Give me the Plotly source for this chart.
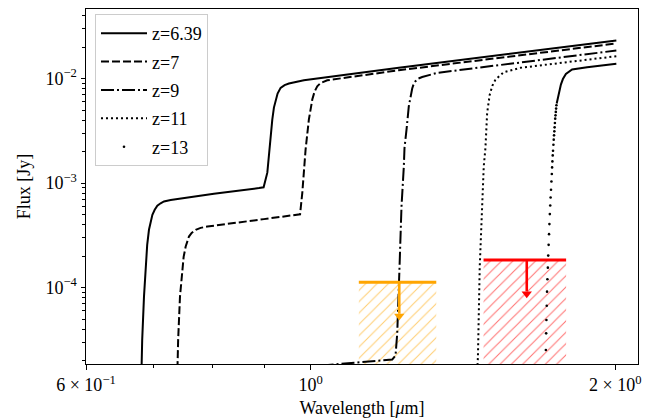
import math
import plotly.graph_objects as go

# ---------------- data ----------------
wl_z639 = [0.6804, 0.6818, 0.6846, 0.6873, 0.6896, 0.6924, 0.6978, 0.7015, 0.7057, 0.7110,
           0.7164, 0.7274, 0.7386, 0.8026, 0.8892, 0.8987, 0.9063, 0.9116, 0.9166, 0.9200,
           0.9235, 0.9277, 0.9341, 0.9426, 0.9519, 0.9665, 0.9849, 1.2223, 2.0048]
fx_z639 = [1.30e-5, 3.14e-5, 8.18e-5, 1.72e-4, 2.562e-4, 3.57e-4, 4.97e-4, 5.546e-4, 6.06e-4, 6.40e-4,
           6.66e-4, 6.87e-4, 7.02e-4, 7.90e-4, 8.95e-4, 9.11e-4, 1.256e-3, 2.434e-3, 4.04e-3, 5.27e-3,
           6.29e-3, 7.18e-3, 8.15e-3, 8.66e-3, 8.96e-3, 9.30e-3, 9.63e-3, 1.267e-2, 2.313e-2]

wl_z7 = [0.7383, 0.7399, 0.7430, 0.7470, 0.7492, 0.7527, 0.7583, 0.7630, 0.7700, 0.7787,
         0.7907, 0.8993, 0.9764, 0.9813, 0.9887, 0.9961, 1.0039, 1.0091, 1.0153, 1.0230,
         1.0387, 1.2223, 2.0048]
fx_z7 = [1.30e-5, 3.14e-5, 8.18e-5, 1.475e-4, 1.965e-4, 2.467e-4, 3.076e-4, 3.338e-4, 3.567e-4, 3.725e-4,
         3.836e-4, 4.516e-4, 5.02e-4, 8.02e-4, 2.086e-3, 4.04e-3, 6.29e-3, 7.50e-3, 8.44e-3, 9.055e-3,
         9.63e-3, 1.201e-2, 2.166e-2]

wl_z9 = [1.0230, 1.2041, 1.2132, 1.2179, 1.2243, 1.2298, 1.2363, 1.2382, 1.2439, 1.2504,
         1.2601, 1.2638, 1.2695, 1.2782, 1.2890, 1.3338, 2.0048]
fx_z9 = [1.79e-5, 2.045e-5, 2.234e-5, 3.646e-5, 1.586e-4, 5.97e-4, 1.443e-3, 2.166e-3, 3.243e-3, 5.43e-3,
         8.02e-3, 8.76e-3, 9.42e-3, 1.000e-2, 1.034e-2, 1.134e-2, 1.855e-2]

wl_z11 = [1.4600, 1.4633, 1.4693, 1.4774, 1.4828, 1.4885, 1.4943, 1.5031, 1.5124, 1.5228,
          1.5367, 1.5517, 1.6118, 2.0048]
fx_z11 = [1.30e-5, 2.175e-5, 1.586e-4, 5.97e-4, 1.443e-3, 2.166e-3, 4.69e-3, 7.02e-3, 8.567e-3, 9.78e-3,
          1.0685e-2, 1.149e-2, 1.267e-2, 1.636e-2]

# z=13: dense (continuous-looking) upper part and the sparse points of the break
wl_z13_top = [1.7504, 1.7584, 1.7672, 1.7753, 1.7874, 1.8128, 1.8757, 2.0048]
fx_z13_top = [5.76e-3, 7.18e-3, 8.76e-3, 9.89e-3, 1.104e-2, 1.220e-2, 1.283e-2, 1.383e-2]
wl_z13_pts = [1.7493, 1.7481, 1.7469, 1.7457, 1.7445, 1.7433, 1.7422, 1.7410, 1.7398, 1.7386,
              1.7374, 1.7359, 1.7347, 1.7335, 1.7323, 1.7311, 1.7296, 1.7280, 1.7264, 1.7249,
              1.7233, 1.7217, 1.7202, 1.7186, 1.7170, 1.7155, 1.7139, 1.7124, 1.7112, 1.7100,
              1.7089, 1.7077]
fx_z13_pts = [5.546e-3, 5.159e-3, 4.795e-3, 4.447e-3, 4.134e-3, 3.760e-3, 3.412e-3, 3.124e-3, 2.860e-3, 2.601e-3,
              2.329e-3, 2.040e-3, 1.839e-3, 1.611e-3, 1.411e-3, 1.220e-3, 1.036e-3, 8.627e-4, 7.277e-4, 6.098e-4,
              5.044e-4, 4.045e-4, 3.243e-4, 2.562e-4, 2.022e-4, 1.551e-4, 1.201e-4, 9.133e-5, 6.706e-5, 4.890e-5,
              3.646e-5, 2.522e-5]

# photometric upper limits
band_center = [1.2235, 1.6352]
band_halfwidth = [0.1075, 0.1531]
flux_limit = [1.124e-4, 1.839e-4]
arrow_fraction = 0.5
limit_colors = ["orange", "red"]

# tick labels
xtick_vals = [0.6, 1.0, 2.0]
xtick_text = ["6 × 10<sup>−1</sup>", "10<sup>0</sup>", "2 × 10<sup>0</sup>"]
xminor_vals = [0.7, 0.8, 0.9]
ytick_vals = [1e-4, 1e-3, 1e-2]
ytick_text = ["10<sup>−4</sup>", "10<sup>−3</sup>", "10<sup>−2</sup>"]
yminor_vals = [m * 10 ** e for e in (-5, -4, -3, -2) for m in range(2, 10) if 1.8e-5 < m * 10 ** e < 4.7e-2]

# ---------------- figure ----------------
FONT = "Liberation Serif"
fig = go.Figure()

# hatched regions below the limits
for c, hw, lim, col in zip(band_center, band_halfwidth, flux_limit, limit_colors):
    x0, x1 = c - hw, c + hw
    floor = 1e-6
    fig.add_trace(go.Scatter(
        x=[x0, x1, x1, x0, x0], y=[lim, lim, floor, floor, lim],
        mode="lines", fill="toself", line=dict(width=0, color="rgba(0,0,0,0)"),
        fillcolor="rgba(0,0,0,0)",
        fillpattern=dict(shape="/", fgcolor=col, fgopacity=0.55, bgcolor="rgba(0,0,0,0)",
                         size=8, solidity=0.13),
        showlegend=False, hoverinfo="skip"))

fig.add_trace(go.Scatter(x=wl_z639, y=fx_z639, mode="lines", name="z=6.39", legendgroup="a",
                         line=dict(color="black", width=2)))
fig.add_trace(go.Scatter(x=wl_z7, y=fx_z7, mode="lines", name="z=7", legendgroup="b",
                         line=dict(color="black", width=2, dash="8px,3px")))
fig.add_trace(go.Scatter(x=wl_z9, y=fx_z9, mode="lines", name="z=9", legendgroup="c",
                         line=dict(color="black", width=2, dash="13px,3px,2px,3px")))
fig.add_trace(go.Scatter(x=wl_z11, y=fx_z11, mode="lines", name="z=11", legendgroup="d",
                         line=dict(color="black", width=2, dash="2px,3px")))
fig.add_trace(go.Scatter(x=wl_z13_top, y=fx_z13_top, mode="lines", name="z=13", legendgroup="e",
                         showlegend=False, line=dict(color="black", width=2)))
fig.add_trace(go.Scatter(x=wl_z13_pts, y=fx_z13_pts, mode="markers", name="z=13", legendgroup="e",
                         marker=dict(color="black", size=2.6, line=dict(width=0))))

# upper limits: horizontal bar, arrow shaft and head
for c, hw, lim, col in zip(band_center, band_halfwidth, flux_limit, limit_colors):
    fig.add_trace(go.Scatter(x=[c - hw, c + hw], y=[lim, lim], mode="lines",
                             line=dict(color=col, width=3), showlegend=False, hoverinfo="skip"))
    fig.add_trace(go.Scatter(x=[c, c], y=[lim, lim * arrow_fraction], mode="lines",
                             line=dict(color=col, width=2.6), showlegend=False, hoverinfo="skip"))
    fig.add_trace(go.Scatter(x=[c], y=[lim * arrow_fraction * 0.95], mode="markers",
                             marker=dict(symbol="triangle-down", size=9, color=col, line=dict(width=0)),
                             showlegend=False, hoverinfo="skip"))

axis_common = dict(type="log", showgrid=False, zeroline=False, showline=True, linecolor="black",
                   linewidth=1, mirror=True, ticks="outside", ticklen=4.5, tickwidth=1,
                   tickcolor="black", automargin=False,
                   tickfont=dict(family=FONT, size=18, color="black"))

fig.update_layout(
    width=655, height=418,
    margin=dict(l=86, r=17, t=9, b=54),
    paper_bgcolor="white", plot_bgcolor="white",
    font=dict(family=FONT, size=18, color="black"),
    xaxis=dict(axis_common, range=[math.log10(0.6), math.log10(2.106)],
               tickmode="array", tickvals=xtick_vals, ticktext=xtick_text,
               minor=dict(tickmode="array", tickvals=xminor_vals, ticks="outside", ticklen=2.8,
                          tickwidth=0.8, tickcolor="black", showgrid=False),
               title=dict(text="Wavelength [<i>μ</i>m]", standoff=7,
                          font=dict(family=FONT, size=18, color="black"))),
    yaxis=dict(axis_common, range=[math.log10(1.855e-5), math.log10(4.63e-2)],
               tickmode="array", tickvals=ytick_vals, ticktext=ytick_text,
               minor=dict(tickmode="array", tickvals=yminor_vals, ticks="outside", ticklen=2.8,
                          tickwidth=0.8, tickcolor="black", showgrid=False),
               title=dict(text="Flux [Jy]", standoff=10,
                          font=dict(family=FONT, size=18, color="black"))),
    legend=dict(x=0.0163, y=0.986, xanchor="left", yanchor="top",
                bgcolor="rgba(255,255,255,0.8)", bordercolor="#cccccc", borderwidth=1,
                font=dict(family=FONT, size=18, color="black"),
                traceorder="grouped", tracegroupgap=2, itemwidth=46),
    showlegend=True,
)

fig.write_html("out.html")
